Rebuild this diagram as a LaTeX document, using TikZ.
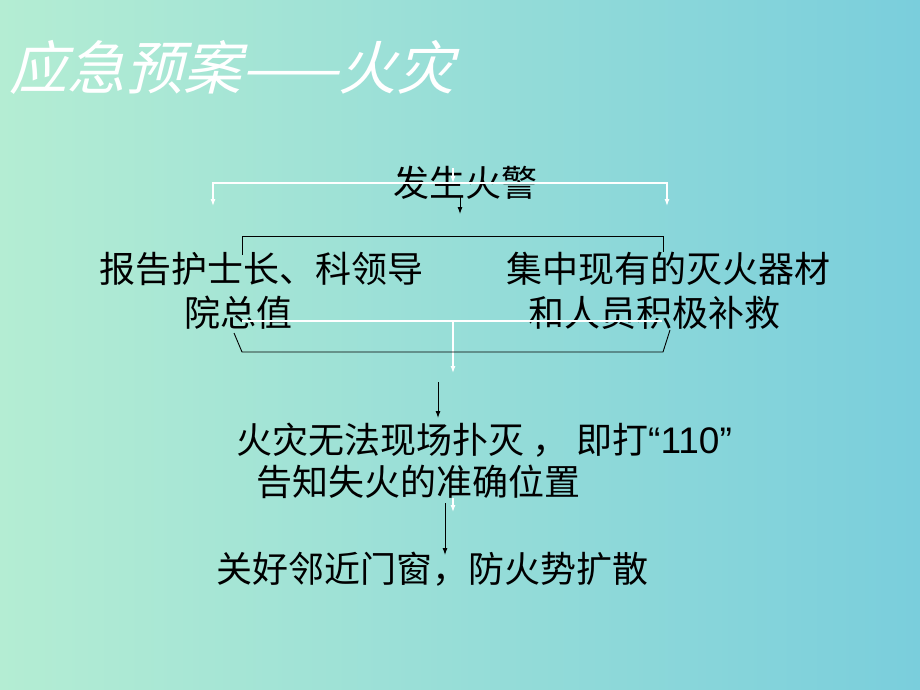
\documentclass[tikz,border=0pt]{standalone}
\usepackage{fontspec}
\usetikzlibrary{arrows.meta}
\newfontfamily\cjk{Noto Sans CJK SC}
\newfontfamily\cjktitle[FakeSlant=0.25]{Noto Sans CJK SC}
\newfontfamily\latinsans{Liberation Sans}
\definecolor{bgleft}{HTML}{B4EDD3}
\definecolor{bgright}{HTML}{7ACEDC}
\tikzset{
  txt/.style={anchor=west, inner sep=0pt, font=\cjk\fontsize{36}{40}\selectfont, text=black},
  ttl/.style={anchor=west, inner sep=0pt, font=\cjktitle\fontsize{58}{62}\selectfont, text=white},
  bline/.style={draw=black, line width=0.9pt},
  wline/.style={draw=white, line width=1.1pt},
  tip/.style={-{Latex[length=7pt,width=5pt]}},
  tips/.style={{Latex[length=7pt,width=5pt]}-{Latex[length=7pt,width=5pt]}}
}
\begin{document}
\begin{tikzpicture}[x=1pt,y=-1pt]
\shade[left color=bgleft, right color=bgright] (0,0) rectangle (920,690);
\useasboundingbox (0,0) rectangle (920,690);

% texts
\node[ttl] (title) at (9,67) {应急预案——火灾};
\node[txt, anchor=center] (alarm) at (465,183) {发生火警};
\node[txt] (rep1) at (99,269) {报告护士长、科领导};
\node[txt] (rep2) at (184,313) {院总值};
\node[txt] (col1) at (506,269) {集中现有的灭火器材};
\node[txt] (col2) at (528,313) {和人员积极补救};
\node[txt] (call1) at (236,440) {火灾无法现场扑灭\hspace{8pt}，\hspace{8pt}即打{\latinsans\fontsize{37}{40}\selectfont“110”}};
\node[txt] (call2) at (256,482) {告知失火的准确位置};
\node[txt] (close) at (216,569) {关好邻近门窗，防火势扩散};

% coordinates
\coordinate (wl) at (213,206);
\coordinate (wm) at (453,183);
\coordinate (wr) at (667,206);
\coordinate (wc0) at (453,168);
\coordinate (ba0) at (460,197);
\coordinate (ba1) at (460,214);
\coordinate (tb1) at (242,255);
\coordinate (tb2) at (242,236);
\coordinate (tb3) at (663,236);
\coordinate (tb4) at (663,252);
\coordinate (wh1) at (242,321);
\coordinate (wh2) at (662,321);
\coordinate (wd0) at (453,321);
\coordinate (wd1) at (453,373);
\coordinate (lb1) at (234,333);
\coordinate (lb2) at (242,352);
\coordinate (lb3) at (663,352);
\coordinate (lb4) at (670,330);
\coordinate (bb0) at (438,382);
\coordinate (bb1) at (438,418);
\coordinate (wb0) at (453,498);
\coordinate (wb1) at (453,512);
\coordinate (bc0) at (445,503);
\coordinate (bc1) at (445,555);

% white connectors
\draw[wline, tips] (wl) |- (wm) -| (wr);
\draw[wline, tip] (wc0) -- (wm);
\draw[wline] (wh1) -- (wh2);
\draw[wline, tip] (wd0) -- (wd1);
\draw[wline, tip] (wb0) -- (wb1);

% black connectors
\draw[bline, tip] (ba0) -- (ba1);
\draw[bline] (tb1) -- (tb2) -- (tb3) -- (tb4);
\draw[bline] (lb1) -- (lb2) -- (lb3) -- (lb4);
\draw[bline, tip] (bb0) -- (bb1);
\draw[bline, tip] (bc0) -- (bc1);
\end{tikzpicture}
\end{document}
